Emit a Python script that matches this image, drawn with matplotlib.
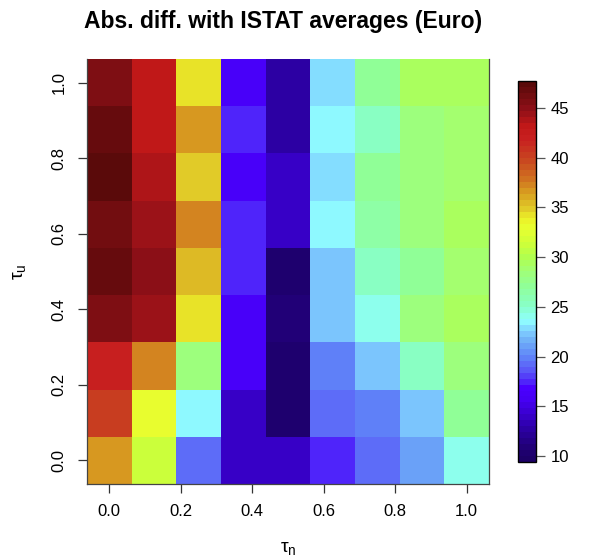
import numpy as np
import matplotlib
matplotlib.use("Agg")
import matplotlib.pyplot as plt
from matplotlib.colors import LinearSegmentedColormap, Normalize

plt.rcParams["font.family"] = ["Liberation Sans", "DejaVu Sans"]
plt.rcParams["mathtext.default"] = "regular"

# grid of the two parameters
tau_n = [0.0, 0.125, 0.25, 0.375, 0.5, 0.625, 0.75, 0.875, 1.0]
tau_u = [0.0, 0.125, 0.25, 0.375, 0.5, 0.625, 0.75, 0.875, 1.0]

# abs. difference, one row per tau_u (bottom to top), columns follow tau_n
abs_diff = [
    [36.5, 31.5, 19.5, 14.0, 14.0, 17.5, 19.0, 21.0, 24.3],
    [40.0, 33.0, 23.5, 14.0, 10.0, 19.0, 20.0, 22.5, 27.0],
    [42.0, 37.5, 28.5, 16.0, 10.0, 20.0, 22.0, 25.5, 28.5],
    [45.8, 44.5, 34.0, 16.0, 11.0, 22.0, 24.3, 28.0, 29.5],
    [47.0, 45.0, 35.5, 17.5, 10.5, 22.5, 25.5, 27.0, 29.0],
    [46.3, 44.5, 37.5, 17.5, 14.0, 23.5, 26.7, 28.5, 29.5],
    [47.5, 44.0, 35.0, 16.0, 14.0, 23.0, 27.3, 28.0, 28.8],
    [47.0, 43.0, 36.5, 17.5, 12.5, 23.5, 25.5, 28.5, 28.8],
    [45.8, 43.0, 34.5, 16.0, 12.5, 23.0, 27.0, 29.2, 29.5],
]
zlim = (9.4, 47.7)
cbar_ticks = [10, 15, 20, 25, 30, 35, 40, 45]

# colour ramp (value, colour)
ramp = [
    (9.4, "#1c0066"), (10.5, "#200074"), (12.5, "#2c00a4"), (14.0, "#3a00d0"),
    (15.5, "#4600f4"), (16.7, "#4a00ff"), (17.5, "#5030f8"), (18.5, "#5a58f8"),
    (20.0, "#6088f8"), (21.5, "#70b0f8"), (22.5, "#80d0ff"), (23.5, "#90ffff"),
    (25.0, "#88ffc8"), (27.0, "#90ff98"), (28.5, "#a0ff78"), (30.0, "#b0ff50"),
    (31.5, "#d0ff38"), (33.0, "#e8ff30"), (34.0, "#ecf028"), (35.0, "#e0c828"),
    (36.5, "#d8a020"), (38.0, "#d07020"), (40.0, "#c84420"), (42.0, "#c82020"),
    (43.5, "#c01818"), (45.0, "#901018"), (47.7, "#5a0a0a"),
]
span = zlim[1] - zlim[0]
cmap = LinearSegmentedColormap.from_list(
    "istat", [((v - zlim[0]) / span, c) for v, c in ramp], N=64)
norm = Normalize(*zlim)


def edges(centres):
    c = np.asarray(centres)
    half = (c[1] - c[0]) / 2
    return np.append(c - half, c[-1] + half)


def main():
    fig = plt.figure(figsize=(5.91, 5.57), dpi=100)
    ax = fig.add_axes([0.1472, 0.131, 0.680, 0.763])
    ax.pcolormesh(edges(tau_n), edges(tau_u), np.array(abs_diff),
                  cmap=cmap, norm=norm, shading="flat")
    ax.set_xlim(edges(tau_n)[0], edges(tau_n)[-1])
    ax.set_ylim(edges(tau_u)[0], edges(tau_u)[-1])

    ticks = [0.0, 0.2, 0.4, 0.6, 0.8, 1.0]
    ax.set_xticks(ticks, [f"{t:.1f}" for t in ticks])
    ax.set_yticks(ticks, [f"{t:.1f}" for t in ticks])
    for lab in ax.get_yticklabels():
        lab.set_rotation(90)
        lab.set_va("center")
    ax.tick_params(direction="out", length=6.5, width=0.9, color="#333333",
                   labelsize=12, pad=8)
    for side in ("left", "bottom", "right"):
        ax.spines[side].set_color("#444444")
        ax.spines[side].set_linewidth(0.9)
    ax.spines["top"].set_visible(False)

    ax.set_xlabel(r"$\tau_n$", fontsize=14, labelpad=15)
    ax.set_ylabel(r"$\tau_u$", fontsize=14, labelpad=17)
    fig.text(0.479, 0.961, "Abs. diff. with ISTAT averages (Euro)",
             ha="center", va="center", fontsize=16.5, fontweight="bold")

    cax = fig.add_axes([0.8765, 0.1706, 0.0305, 0.684])
    cb = fig.colorbar(plt.cm.ScalarMappable(norm=norm, cmap=cmap), cax=cax)
    cb.set_ticks(cbar_ticks)
    cb.outline.set_linewidth(1.0)
    cax.tick_params(direction="out", length=6.5, width=0.9, color="#555555",
                    labelsize=12, pad=4)

    fig.savefig("out.png", dpi=100)


if __name__ == "__main__":
    main()
